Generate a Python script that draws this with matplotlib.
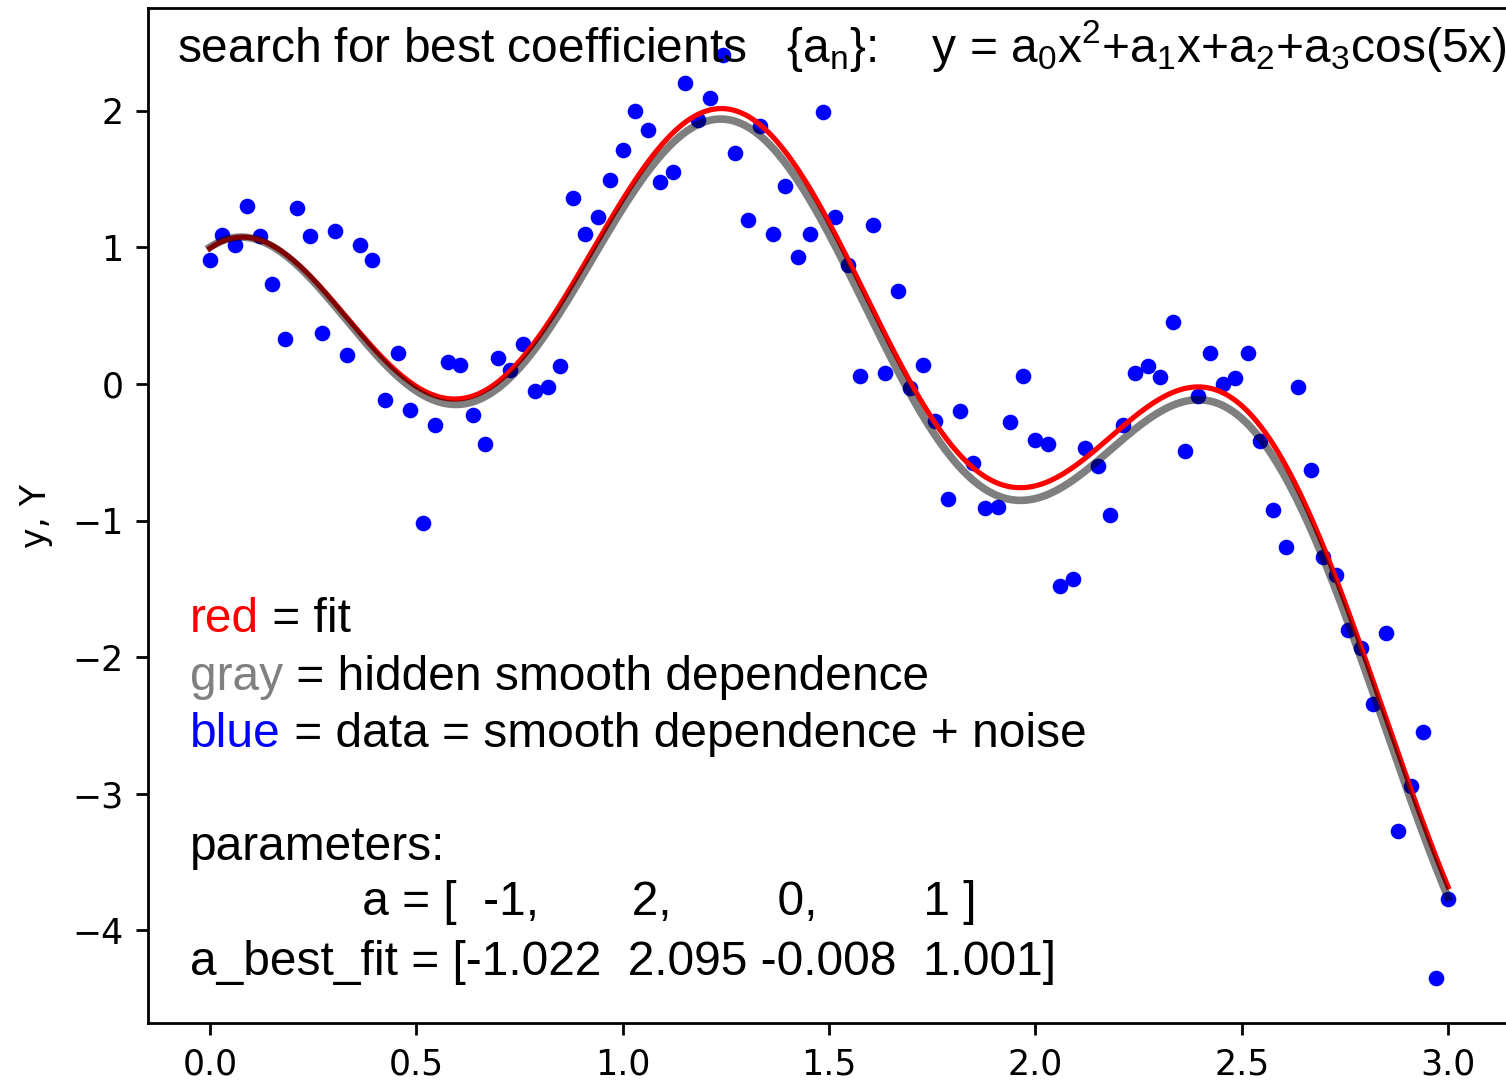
import numpy as np
import matplotlib
matplotlib.use("Agg")
import matplotlib.pyplot as plt

plt.rcParams["mathtext.fontset"] = "custom"
plt.rcParams["mathtext.rm"] = "Liberation Sans"
plt.rcParams["mathtext.default"] = "regular"

# noisy samples, x = linspace(0, 3, 100)
x = np.linspace(0, 3, 100)
Y = [0.91, 1.09, 1.02, 1.30, 1.08, 0.73, 0.33, 1.29, 1.08, 0.37,
     1.12, 0.21, 1.02, 0.91, -0.12, 0.23, -0.19, -1.02, -0.30, 0.16,
     0.14, -0.23, -0.44, 0.19, 0.10, 0.29, -0.05, -0.02, 0.13, 1.36,
     1.10, 1.22, 1.49, 1.71, 2.00, 1.86, 1.48, 1.55, 2.20, 1.93,
     2.09, 2.41, 1.69, 1.20, 1.89, 1.10, 1.45, 0.93, 1.10, 1.99,
     1.22, 0.87, 0.06, 1.16, 0.08, 0.68, -0.03, 0.14, -0.27, -0.84,
     -0.20, -0.58, -0.91, -0.90, -0.28, 0.06, -0.41, -0.44, -1.48, -1.43,
     -0.47, -0.60, -0.96, -0.30, 0.08, 0.13, 0.05, 0.45, -0.49, -0.09,
     0.23, 0.00, 0.04, 0.23, -0.42, -0.92, -1.19, -0.02, -0.63, -1.27,
     -1.40, -1.80, -1.93, -2.34, -1.82, -3.27, -2.94, -2.55, -4.35, -3.77]

a = [-1, 2, 0, 1]
a_best_fit = [-1.022, 2.095, -0.008, 1.001]


def model(c, t):
    return c[0] * t**2 + c[1] * t + c[2] + c[3] * np.cos(5 * t)


xs = np.linspace(0, 3, 400)

fig = plt.figure(figsize=(1506 / 250, 1088 / 250), dpi=250)
ax = fig.add_axes([148 / 1506, 65 / 1088, 1362 / 1506, 1015 / 1088])

ax.plot(x, Y, "o", color="blue", ms=4.5, mec="none", zorder=2)
ax.plot(xs, model(a_best_fit, xs), color="red", lw=1.5, zorder=3)
ax.plot(xs, model(a, xs), color="black", alpha=0.5, lw=2.2, zorder=4)

ax.set_xlim(-0.15, 3.15)
ax.set_ylim(-4.678, 2.752)
ax.set_xticks([0.0, 0.5, 1.0, 1.5, 2.0, 2.5, 3.0])
ax.set_yticks([-4, -3, -2, -1, 0, 1, 2])
ax.set_ylabel("y, Y", labelpad=5.5)

fs = 13.8
font = "Liberation Sans"

fig.text(177 / 1506, 1 - 62 / 1088,
         "search for best coefficients   {a$_n$}:    "
         "y = a$_0$x$^2$+a$_1$x+a$_2$+a$_3$cos(5x)",
         fontsize=fs, family=font, va="baseline", zorder=1)

# colour keys: coloured word followed by the explanation in black
legend_lines = [("red", "red", " = fit", 632),
                ("gray", "gray", " = hidden smooth dependence", 690),
                ("blue", "blue", " = data = smooth dependence + noise", 747)]
for word, col, rest, yb in legend_lines:
    t = fig.text(190 / 1506, 1 - yb / 1088, word, color=col,
                 fontsize=fs, family=font, va="baseline", zorder=1)
    ax.annotate(rest, xy=(1, 0), xycoords=t, va="bottom",
                fontsize=fs, family=font, annotation_clip=False)

fig.text(190 / 1506, 1 - 860 / 1088, "parameters:",
         fontsize=fs, family=font, va="baseline")
fig.text(190 / 1506, 1 - 915 / 1088,
         " " * 13 + "a = [  -1,       2,        0,        1 ]",
         fontsize=fs, family=font, va="baseline")
fig.text(190 / 1506, 1 - 975 / 1088,
         "a_best_fit = [" + "  ".join(f"{v:.3f}" for v in a_best_fit).replace("  -", " -") + "]",
         fontsize=fs, family=font, va="baseline")

fig.savefig("out.png", dpi=250)
